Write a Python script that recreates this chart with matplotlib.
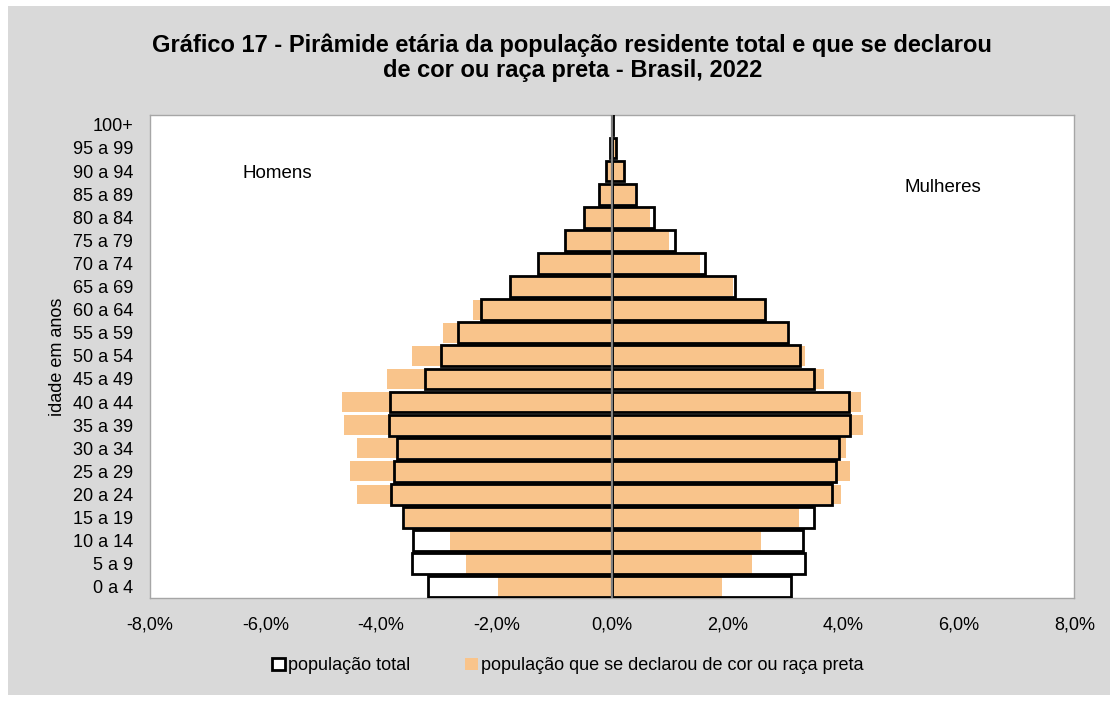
import matplotlib

matplotlib.use("Agg")
import matplotlib.pyplot as plt
from matplotlib.patches import Patch, Rectangle

plt.rcParams["font.family"] = ["Liberation Sans", "DejaVu Sans"]

faixas = ["0 a 4", "5 a 9", "10 a 14", "15 a 19", "20 a 24", "25 a 29", "30 a 34",
          "35 a 39", "40 a 44", "45 a 49", "50 a 54", "55 a 59", "60 a 64", "65 a 69",
          "70 a 74", "75 a 79", "80 a 84", "85 a 89", "90 a 94", "95 a 99", "100+"]

# % of population (men shown negative)
homens_total = [3.18, 3.46, 3.45, 3.61, 3.83, 3.77, 3.72, 3.86, 3.84, 3.23, 2.96,
                2.67, 2.27, 1.77, 1.28, 0.81, 0.49, 0.23, 0.10, 0.04, 0.01]
homens_preta = [1.98, 2.53, 2.81, 3.58, 4.41, 4.53, 4.42, 4.64, 4.67, 3.90, 3.46,
                2.93, 2.41, 1.77, 1.28, 0.79, 0.47, 0.21, 0.10, 0.03, 0.01]
mulheres_total = [3.09, 3.33, 3.31, 3.49, 3.81, 3.88, 3.92, 4.12, 4.10, 3.50, 3.26,
                  3.04, 2.65, 2.13, 1.61, 1.09, 0.73, 0.42, 0.20, 0.07, 0.01]
mulheres_preta = [1.91, 2.42, 2.57, 3.23, 3.96, 4.12, 4.05, 4.34, 4.31, 3.66, 3.33,
                  3.03, 2.64, 2.09, 1.52, 0.99, 0.65, 0.39, 0.20, 0.06, 0.01]

laranja = "#F9C48B"
fundo = "#D9D9D9"

fig = plt.figure(figsize=(11.18, 7.01), dpi=100, facecolor="white")
fig.patches.append(Rectangle((0.007, 0.009), 0.986, 0.982, transform=fig.transFigure,
                             facecolor=fundo, edgecolor="none", zorder=-10))
ax = fig.add_axes([0.134, 0.147, 0.827, 0.689])
ax.set_zorder(1)

y = list(range(len(faixas)))
h = 0.9
neg_total = [-v for v in homens_total]
neg_preta = [-v for v in homens_preta]

# white fill of total bars, then orange, then outlines on top
ax.barh(y, neg_total, height=h, color="white", zorder=1)
ax.barh(y, mulheres_total, height=h, color="white", zorder=1)
ax.barh(y, neg_preta, height=h * 0.95, color=laranja, zorder=2)
ax.barh(y, mulheres_preta, height=h * 0.95, color=laranja, zorder=2)
ax.barh(y, neg_total, height=h, facecolor="none", edgecolor="black", linewidth=2, zorder=3)
ax.barh(y, mulheres_total, height=h, facecolor="none", edgecolor="black", linewidth=2, zorder=3)
ax.axvline(0, color="#7f7f7f", linewidth=1.6, zorder=4)

ax.set_xlim(-8, 8)
ax.set_ylim(-0.48, 20.43)
ax.set_xticks([-8, -6, -4, -2, 0, 2, 4, 6, 8])
ax.set_xticklabels([f"{v:.1f}%".replace(".", ",") for v in [-8, -6, -4, -2, 0, 2, 4, 6, 8]])
ax.set_yticks(y)
ax.set_yticklabels(faixas)
ax.tick_params(axis="both", length=0, labelsize=13, colors="black")
ax.tick_params(axis="x", pad=13)
ax.tick_params(axis="y", pad=12)
for s in ax.spines.values():
    s.set_color("#a6a6a6")
    s.set_linewidth(1)

ax.set_ylabel("idade em anos", fontsize=13, labelpad=5)

ax.text(-6.4, 17.9, "Homens", fontsize=13.5, va="center", ha="left")
ax.text(5.06, 17.3, "Mulheres", fontsize=13.5, va="center", ha="left")

fig.text(0.512, 0.936, "Gráfico 17 - Pirâmide etária da população residente total e que se declarou",
         ha="center", va="center", fontsize=17, fontweight="bold")
fig.text(0.512, 0.900, "de cor ou raça preta - Brasil, 2022",
         ha="center", va="center", fontsize=17, fontweight="bold")

handles = [Patch(facecolor="white", edgecolor="black", linewidth=2, label="população total"),
           Patch(facecolor=laranja, edgecolor="none", label="população que se declarou de cor ou raça preta")]
fig.legend(handles=handles, loc="center", bbox_to_anchor=(0.508, 0.05), ncol=2, frameon=False,
           fontsize=13, handlelength=0.7, handleheight=0.7, handletextpad=0.2, columnspacing=3.0)

fig.savefig("out.png", dpi=100, facecolor="white")
